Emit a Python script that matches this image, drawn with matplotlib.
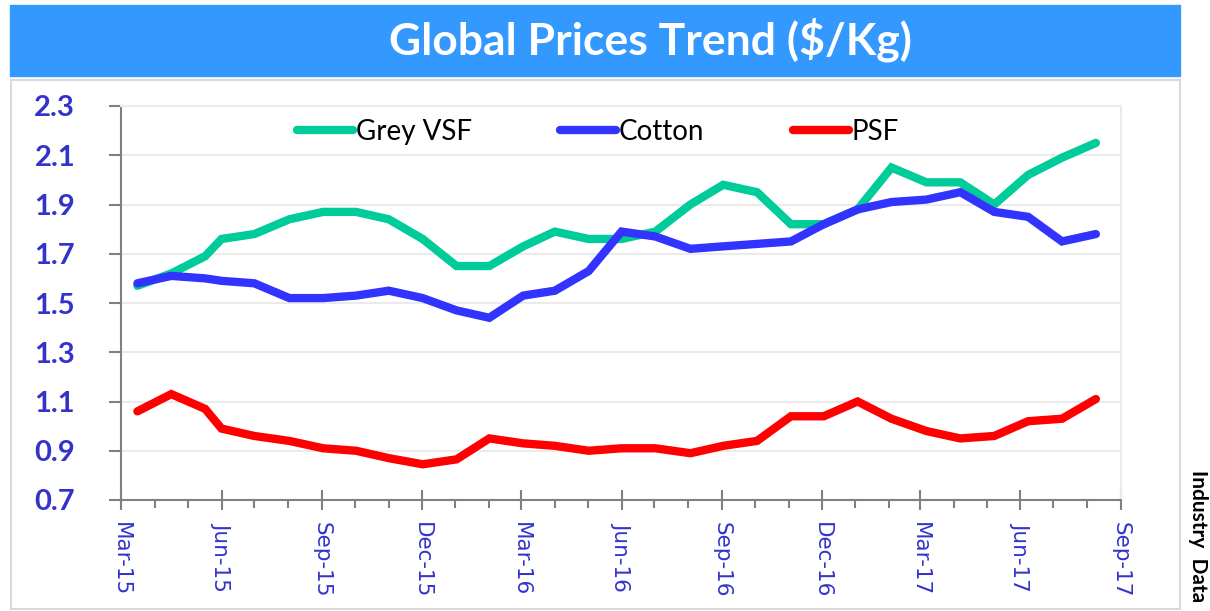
import matplotlib.pyplot as plt
import matplotlib.dates as mdates
from matplotlib.patches import Rectangle
import pandas as pd

dates = ['2015-03-16', '2015-04-16', '2015-05-17', '2015-06-01', '2015-07-01',
         '2015-08-02', '2015-09-02', '2015-10-02', '2015-11-01', '2015-12-02',
         '2016-01-02', '2016-02-01', '2016-03-03', '2016-04-01', '2016-05-02',
         '2016-06-01', '2016-07-02', '2016-08-03', '2016-09-02', '2016-10-03',
         '2016-11-03', '2016-12-03', '2017-01-03', '2017-02-03', '2017-03-07',
         '2017-04-07', '2017-05-08', '2017-06-08', '2017-07-09', '2017-08-09']

grey_vsf = [1.57, 1.62, 1.69, 1.76, 1.78, 1.84, 1.87, 1.87, 1.84, 1.76,
            1.65, 1.65, 1.73, 1.79, 1.76, 1.76, 1.79, 1.90, 1.98, 1.95,
            1.82, 1.82, 1.88, 2.05, 1.99, 1.99, 1.90, 2.02, 2.09, 2.15]
cotton = [1.58, 1.61, 1.60, 1.59, 1.58, 1.52, 1.52, 1.53, 1.55, 1.52,
          1.47, 1.44, 1.53, 1.55, 1.63, 1.79, 1.77, 1.72, 1.73, 1.74,
          1.75, 1.82, 1.88, 1.91, 1.92, 1.95, 1.87, 1.85, 1.75, 1.78]
psf = [1.06, 1.13, 1.07, 0.99, 0.96, 0.94, 0.91, 0.90, 0.87, 0.845,
       0.865, 0.95, 0.93, 0.92, 0.90, 0.91, 0.91, 0.89, 0.92, 0.94,
       1.04, 1.04, 1.10, 1.03, 0.98, 0.95, 0.96, 1.02, 1.03, 1.11]

series_names = ['Grey VSF', 'Cotton', 'PSF']
series_colors = ['#00CC99', '#3333FF', '#FF0000']
yticks = [0.7, 0.9, 1.1, 1.3, 1.5, 1.7, 1.9, 2.1, 2.3]

x = pd.to_datetime(dates)

fig = plt.figure(figsize=(12.10, 6.11), dpi=100)
W, H = 1210, 611

# title banner and outer box
fig.patches.append(Rectangle((10 / W, 1 - 76 / H), 1170 / W, 71 / H,
                             transform=fig.transFigure, color='#3399FF', zorder=0))
fig.patches.append(Rectangle((11 / W, 1 - 609 / H), 1169 / W, 529 / H,
                             transform=fig.transFigure, facecolor='none',
                             edgecolor='#D9D9D9', linewidth=1.5, zorder=0))
fig.text(650 / W, 1 - 40 / H, 'Global Prices Trend ($/Kg)', color='white',
         fontsize=32, fontweight='bold', family='Lato', ha='center', va='center')
fig.text(1198 / W, 1 - 470 / H, 'Industry  Data', rotation=-90, fontsize=15,
         fontweight='bold', family='Lato', ha='center', va='top')

ax = fig.add_axes([121 / W, 1 - 500 / H, 1000 / W, 394 / H])
for vals, name, col in zip([grey_vsf, cotton, psf], series_names, series_colors):
    ax.plot(x, vals, color=col, linewidth=6, solid_capstyle='round',
            solid_joinstyle='miter', label=name)

ax.set_xlim(pd.Timestamp('2015-03-01'), pd.Timestamp('2017-09-01'))
ax.set_ylim(0.7, 2.3)
ax.set_yticks(yticks)
ax.set_yticklabels([f'{v:.1f}' for v in yticks], fontsize=21, fontweight='bold',
                   family='Lato', color='#3333CC')
ax.grid(axis='y', color='#EBEBEB', linewidth=1.5)
ax.set_axisbelow(True)

ax.xaxis.set_major_locator(mdates.MonthLocator(bymonth=[3, 6, 9, 12]))
ax.xaxis.set_minor_locator(mdates.MonthLocator())
ax.xaxis.set_major_formatter(mdates.DateFormatter('%b-%y'))
for lbl in ax.get_xticklabels():
    lbl.set_rotation(-90)
    lbl.set_color('#3333CC')
    lbl.set_fontsize(15.5)
ax.tick_params(axis='x', which='major', direction='inout', length=14, width=1.5,
               color='#808080', pad=9)
ax.tick_params(axis='x', which='minor', direction='out', length=6, width=1.5,
               color='#808080')
ax.tick_params(axis='y', direction='out', length=9, width=1.5, color='#808080', pad=24)

for s in ['left', 'bottom']:
    ax.spines[s].set_color('#808080')
    ax.spines[s].set_linewidth(1.5)
for s in ['top', 'right']:
    ax.spines[s].set_color('#EBEBEB')
    ax.spines[s].set_linewidth(1.5)

ax.legend(loc='upper center', bbox_to_anchor=(0.477, 1.03), ncol=3, frameon=False,
          prop={'family': 'Lato', 'size': 20}, handlelength=2.0, handletextpad=0.1,
          columnspacing=3.2)

fig.savefig('out.png', dpi=100)
